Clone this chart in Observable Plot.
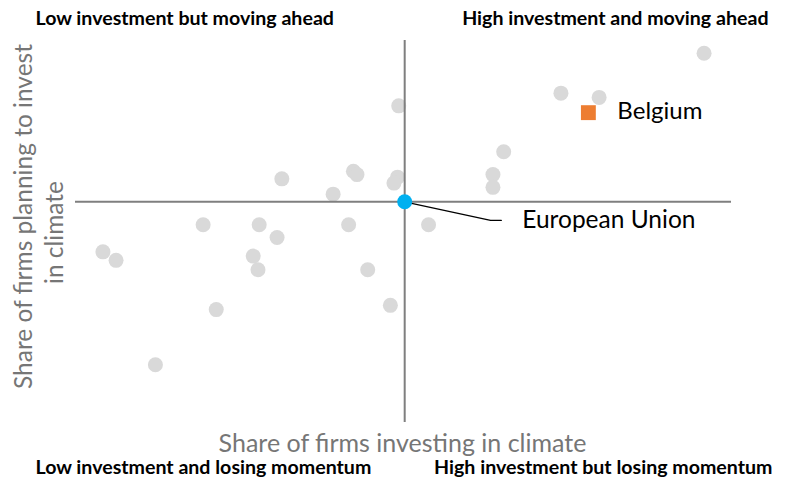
<!DOCTYPE html>
<html>
<head>
<meta charset="utf-8">
<script src="https://cdn.jsdelivr.net/npm/d3@7"></script>
<script src="https://cdn.jsdelivr.net/npm/@observablehq/plot@0.6"></script>
<style>
  html, body { margin: 0; padding: 0; background: #fff; }
  svg { font-family: Lato, "Noto Sans", sans-serif; }
</style>
</head>
<body>
<div id="chart"></div>
<script>
// Other countries: share of firms investing in climate (x) and planning to invest (y), %
const countryX = [77.7, 65.7, 68.9, 52.1, 60.9, 42.3, 48.3, 48.6, 52.0, 51.7, 60.0, 60.0, 46.6,
                  35.7, 40.4, 47.9, 54.6, 41.9, 27.3, 28.4, 39.9, 40.3, 49.5, 36.8, 51.4, 31.7];
const countryY = [73.5, 68.8, 68.3, 67.3, 61.9, 58.7, 59.6, 59.2, 58.9, 58.2, 59.2, 57.7, 56.9,
                  53.3, 53.3, 53.3, 53.3, 51.8, 50.1, 49.1, 49.6, 48.0, 48.0, 43.3, 43.8, 36.8];

const highlightNames = ["Belgium", "European Union"];
const highlightX = [68.0, 52.6];
const highlightY = [66.5, 56.0];

// Label anchor for "European Union" callout (data units)
const euLeaderX = [52.6, 59.8, 60.7];
const euLeaderY = [56.0, 53.8, 53.8];

const quadrantLabels = [
  "Low investment but moving ahead",
  "High investment and moving ahead",
  "Low investment and losing momentum",
  "High investment but losing momentum"
];
const xTitle = "Share of firms investing in climate";
const yTitleLines = ["Share of firms planning to invest", "in climate"];

const countries = countryX.map((x, i) => ({x, y: countryY[i]}));
const belgium = [{name: highlightNames[0], x: highlightX[0], y: highlightY[0]}];
const eu = [{name: highlightNames[1], x: highlightX[1], y: highlightY[1]}];
const leader = euLeaderX.map((x, i) => ({x, y: euLeaderY[i]}));
const euLabel = [{name: highlightNames[1], x: euLeaderX[2], y: euLeaderY[2]}];

const axisGray = "#7f7f7f";
const titleGray = "#767676";
const font = "Lato, 'Noto Sans', sans-serif";

const chart = Plot.plot({
  width: 790,
  height: 486,
  marginLeft: 75,
  marginRight: 59,
  marginTop: 40,
  marginBottom: 64,
  style: {fontFamily: font, background: "#fff"},
  x: {domain: [25, 80], axis: null},
  y: {domain: [30, 75], axis: null},
  marks: [
    Plot.dot(countries, {x: "x", y: "y", r: 7.5, fill: "#d9d9d9", stroke: "none"}),
    Plot.ruleY(eu, {y: "y", stroke: axisGray, strokeWidth: 2}),
    Plot.ruleX(eu, {x: "x", stroke: axisGray, strokeWidth: 2}),
    Plot.line(leader, {x: "x", y: "y", stroke: "#000", strokeWidth: 1.3}),
    Plot.dot(eu, {x: "x", y: "y", r: 7.5, fill: "#00b0f0", stroke: "none"}),
    Plot.dot(belgium, {x: "x", y: "y", symbol: "square", r: 8.4, fill: "#ed7d31", stroke: "none"}),
    Plot.text(belgium, {x: "x", y: "y", text: "name", dx: 29, dy: -1, textAnchor: "start",
      lineAnchor: "middle", fontSize: 24, fill: "#000"}),
    Plot.text(euLabel, {x: "x", y: "y", text: "name", dx: 21, textAnchor: "start",
      lineAnchor: "middle", fontSize: 24.5, fill: "#000"}),
    // Quadrant labels
    Plot.text([quadrantLabels[0]], {frameAnchor: "top-left", text: d => d, dx: -40, dy: -22,
      textAnchor: "start", lineAnchor: "middle", fontWeight: "bold", fontSize: 19.6, fill: "#000"}),
    Plot.text([quadrantLabels[1]], {frameAnchor: "top-right", text: d => d, dx: 37, dy: -22,
      textAnchor: "end", lineAnchor: "middle", fontWeight: "bold", fontSize: 19.6, fill: "#000"}),
    Plot.text([quadrantLabels[2]], {frameAnchor: "bottom-left", text: d => d, dx: -40, dy: 45,
      textAnchor: "start", lineAnchor: "middle", fontWeight: "bold", fontSize: 19.6, fill: "#000"}),
    Plot.text([quadrantLabels[3]], {frameAnchor: "bottom-right", text: d => d, dx: 41, dy: 45,
      textAnchor: "end", lineAnchor: "middle", fontWeight: "bold", fontSize: 19.6, fill: "#000"}),
    // Axis titles
    Plot.text([xTitle], {frameAnchor: "bottom", text: d => d, dx: -1, dy: 21,
      textAnchor: "middle", lineAnchor: "middle", fontSize: 25, fill: titleGray}),
    Plot.text([yTitleLines[0]], {frameAnchor: "left", text: d => d, dx: -51, dy: -15, rotate: -90,
      textAnchor: "middle", lineAnchor: "middle", fontSize: 24.5, fill: titleGray}),
    Plot.text([yTitleLines[1]], {frameAnchor: "left", text: d => d, dx: -20, dy: 1, rotate: -90,
      textAnchor: "middle", lineAnchor: "middle", fontSize: 24.5, fill: titleGray})
  ]
});
document.getElementById("chart").appendChild(chart);
</script>
</body>
</html>
